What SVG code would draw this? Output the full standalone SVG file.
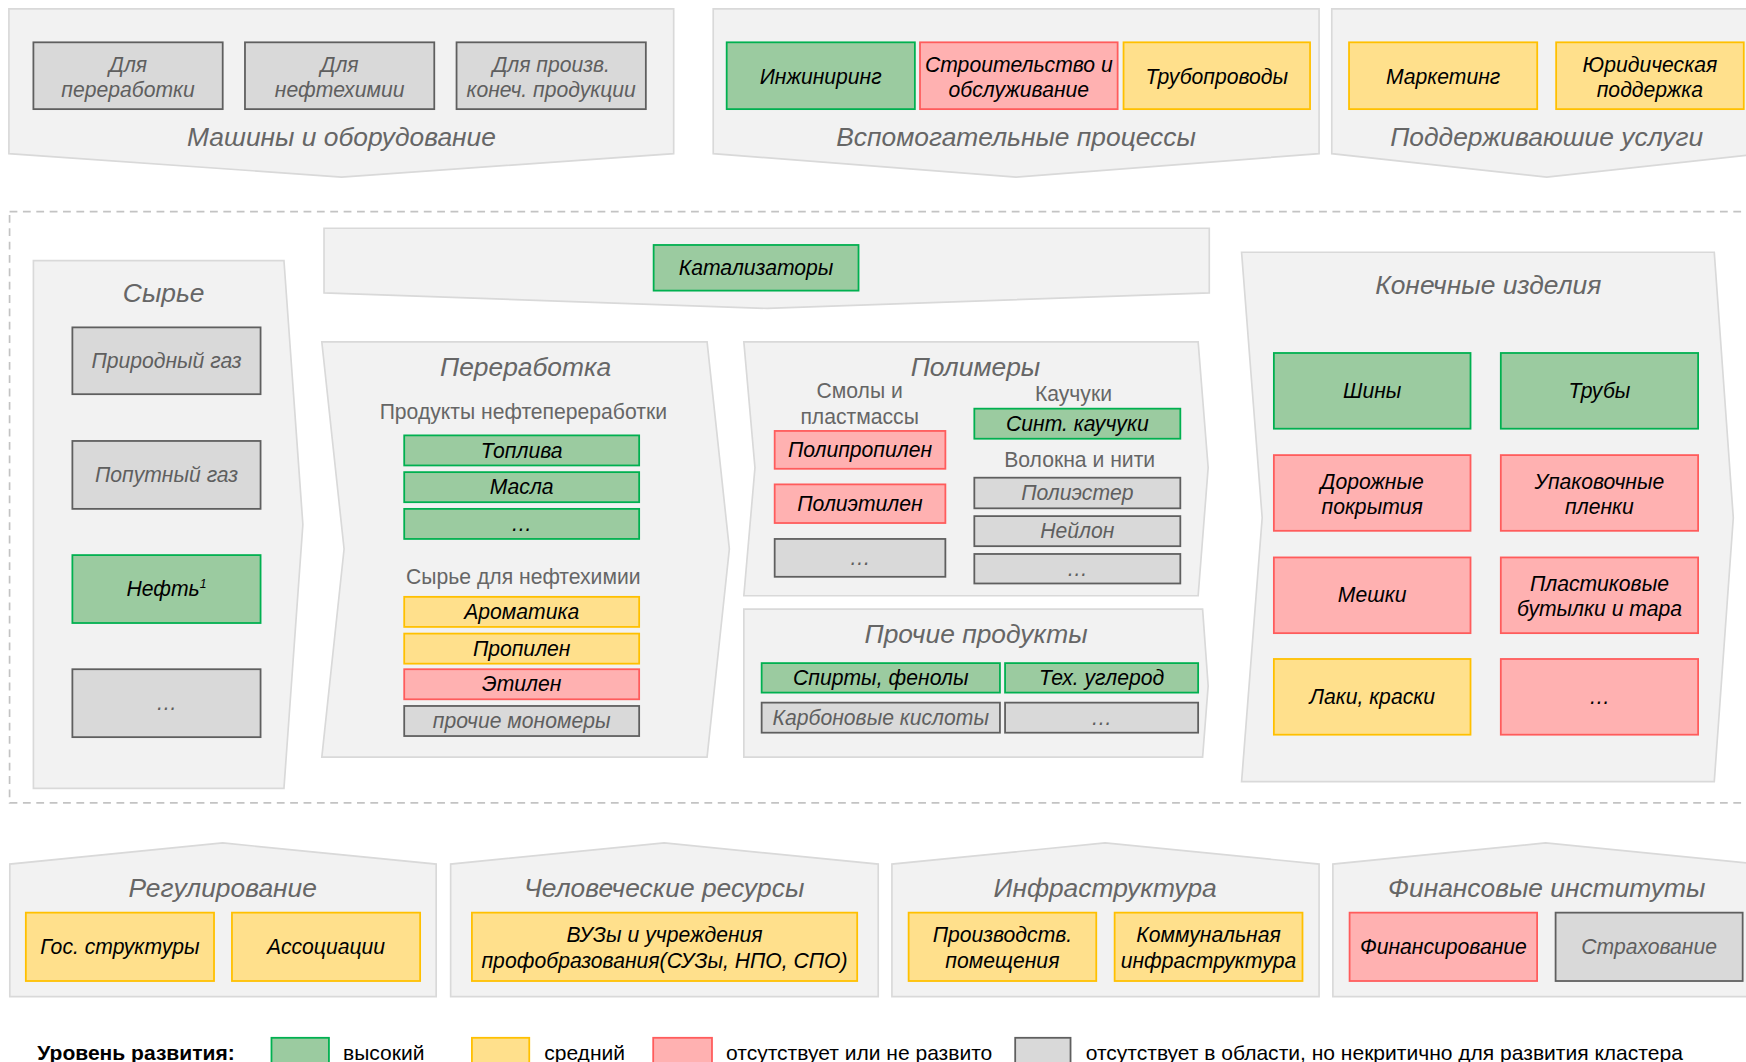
<svg xmlns="http://www.w3.org/2000/svg" width="1746" height="1062" viewBox="0 0 1746 1062">
<style>
.panel{fill:#f2f2f2;stroke:#d9d9d9;stroke-width:1.5}
.g{fill:#9bcba0;stroke:#00b050;stroke-width:1.6}
.r{fill:#ffb1b1;stroke:#ff5c5c;stroke-width:1.6}
.y{fill:#ffe08c;stroke:#ffc000;stroke-width:1.6}
.n{fill:#d9d9d9;stroke:#5f5f5f;stroke-width:1.6}
text{font-family:"Liberation Sans",Arial,sans-serif}
.bt{font-style:italic;font-size:19px;text-anchor:middle;fill:#000}
.gt{font-style:italic;font-size:19px;text-anchor:middle;fill:#5f5f5f}
.ti{font-style:italic;font-size:23.7px;text-anchor:middle;fill:#666}
.su{font-size:19px;text-anchor:middle;fill:#666}
.lg{font-size:18.9px;fill:#000}
.dash{fill:none;stroke:#c3c3c3;stroke-width:1.5;stroke-dasharray:7 5}
</style>
<rect width="1746" height="1062" fill="#fff"/>
<g transform="scale(1.11352)">
<!-- top panels -->
<g id="mashiny">
<path class="panel" d="M8,8 H605 V138 L306.7,159 L8,138 Z"/>
<rect class="n" x="30" y="38" width="170" height="60"/>
<text class="gt" x="115" y="65">Для</text><text class="gt" x="115" y="87.5">переработки</text>
<rect class="n" x="220" y="38" width="170" height="60"/>
<text class="gt" x="305" y="65">Для</text><text class="gt" x="305" y="87.5">нефтехимии</text>
<rect class="n" x="410" y="38" width="170" height="60"/>
<text class="gt" x="495" y="65">Для произв.</text><text class="gt" x="495" y="87.5">конеч. продукции</text>
<text class="ti" x="306.7" y="131">Машины и оборудование</text>
</g>
<g id="vspom">
<path class="panel" d="M640.5,8 H1184.6 V138 L912.5,159 L640.5,138 Z"/>
<rect class="g" x="652.6" y="38" width="169" height="60"/>
<text class="bt" x="737" y="75.5">Инжиниринг</text>
<rect class="r" x="826.2" y="38" width="177.5" height="60"/>
<text class="bt" x="915" y="65">Строительство и</text><text class="bt" x="915" y="87.5">обслуживание</text>
<rect class="y" x="1009" y="38" width="167.5" height="60"/>
<text class="bt" x="1092.7" y="75.5">Трубопроводы</text>
<text class="ti" x="912.5" y="131">Вспомогательные процессы</text>
</g>
<g id="podderzh">
<path class="panel" d="M1196,8 H1582 V138 L1389,159 L1196,138 Z"/>
<rect class="y" x="1211.5" y="38" width="169" height="60"/>
<text class="bt" x="1296" y="75.5">Маркетинг</text>
<rect class="y" x="1397.5" y="38" width="168.5" height="60"/>
<text class="bt" x="1481.7" y="65">Юридическая</text><text class="bt" x="1481.7" y="87.5">поддержка</text>
<text class="ti" x="1389" y="131">Поддерживаюшие услуги</text>
</g>
<!-- cluster frame -->
<rect class="dash" x="8.6" y="190" width="1580" height="531"/>
<g id="katalizatory">
<path class="panel" d="M291,205 H1086 V263 L689,277 L291,263 Z"/>
<rect class="g" x="587" y="220" width="184" height="41"/>
<text class="bt" x="679" y="247">Катализаторы</text>
</g>
<g id="syrye">
<path class="panel" d="M30,234 H255 L272,471 L255,708 H30 Z"/>
<text class="ti" x="147" y="271.5">Сырье</text>
<rect class="n" x="65" y="294" width="169" height="60"/>
<text class="gt" x="149.5" y="330.5">Природный газ</text>
<rect class="n" x="65" y="396" width="169" height="61"/>
<text class="gt" x="149.5" y="433">Попутный газ</text>
<rect class="g" x="65" y="498.5" width="169" height="61"/>
<text class="bt" x="149.5" y="535.5">Нефть<tspan font-size="11" dy="-7">1</tspan></text>
<rect class="n" x="65" y="601" width="169" height="61"/>
<text class="gt" x="149.5" y="638">…</text>
</g>
<g id="pererabotka">
<path class="panel" d="M289,307 H635 L655,493 L635,680 H289 L309,493 Z"/>
<text class="ti" x="472" y="337.5">Переработка</text>
<text class="su" x="470" y="376.5">Продукты нефтепереработки</text>
<rect class="g" x="363" y="391" width="211" height="27"/>
<text class="bt" x="468.5" y="411">Топлива</text>
<rect class="g" x="363" y="424" width="211" height="27"/>
<text class="bt" x="468.5" y="444">Масла</text>
<rect class="g" x="363" y="457" width="211" height="27"/>
<text class="bt" x="468.5" y="477">…</text>
<text class="su" x="470" y="524.5">Сырье для нефтехимии</text>
<rect class="y" x="363" y="536" width="211" height="27"/>
<text class="bt" x="468.5" y="556">Ароматика</text>
<rect class="y" x="363" y="569" width="211" height="27"/>
<text class="bt" x="468.5" y="589">Пропилен</text>
<rect class="r" x="363" y="601" width="211" height="27"/>
<text class="bt" x="468.5" y="621">Этилен</text>
<rect class="n" x="363" y="634" width="211" height="27"/>
<text class="gt" x="468.5" y="654">прочие мономеры</text>
</g>
<g id="polimery">
<path class="panel" d="M668,307 H1076 L1085,420 L1076,535 H668 L678,420 Z"/>
<text class="ti" x="876" y="338">Полимеры</text>
<text class="su" x="772" y="357.5">Смолы и</text>
<text class="su" x="772" y="381">пластмассы</text>
<rect class="r" x="695.7" y="387" width="153.3" height="34"/>
<text class="bt" x="772.3" y="410.5">Полипропилен</text>
<rect class="r" x="695.7" y="435" width="153.3" height="34.7"/>
<text class="bt" x="772.3" y="459">Полиэтилен</text>
<rect class="n" x="695.7" y="484" width="153.3" height="34"/>
<text class="gt" x="772.3" y="507.5">…</text>
<text class="su" x="964" y="360.5">Каучуки</text>
<rect class="g" x="875" y="367" width="185" height="27"/>
<text class="bt" x="967.5" y="387">Синт. каучуки</text>
<text class="su" x="969.6" y="419.5">Волокна и нити</text>
<rect class="n" x="875" y="429" width="185" height="27.5"/>
<text class="gt" x="967.5" y="449">Полиэстер</text>
<rect class="n" x="875" y="463.5" width="185" height="27"/>
<text class="gt" x="967.5" y="483.5">Нейлон</text>
<rect class="n" x="875" y="497.5" width="185" height="26.5"/>
<text class="gt" x="967.5" y="517">…</text>
</g>
<g id="prochie">
<path class="panel" d="M668,547 H1080 L1085,616 L1080,680 H668 Z"/>
<text class="ti" x="876.6" y="577.5">Прочие продукты</text>
<rect class="g" x="684" y="595.5" width="214" height="26.5"/>
<text class="bt" x="791" y="615.5">Спирты, фенолы</text>
<rect class="g" x="902.6" y="595.5" width="173.4" height="26.5"/>
<text class="bt" x="989.3" y="615.5">Тех. углерод</text>
<rect class="n" x="684" y="631" width="214" height="27"/>
<text class="gt" x="791" y="651">Карбоновые кислоты</text>
<rect class="n" x="902.6" y="631" width="173.4" height="27"/>
<text class="gt" x="989.3" y="651">…</text>
</g>
<g id="konechnye">
<path class="panel" d="M1115,226.5 H1539.5 L1556.6,465 L1539.5,702 H1115 L1133.5,465 Z"/>
<text class="ti" x="1336.5" y="264">Конечные изделия</text>
<rect class="g" x="1144" y="317" width="176.6" height="68"/>
<text class="bt" x="1232.3" y="357.5">Шины</text>
<rect class="g" x="1347.8" y="317" width="177.2" height="68"/>
<text class="bt" x="1436.4" y="357.5">Трубы</text>
<rect class="r" x="1144" y="408.7" width="176.6" height="68"/>
<text class="bt" x="1232.3" y="439.5">Дорожные</text><text class="bt" x="1232.3" y="462">покрытия</text>
<rect class="r" x="1347.8" y="408.7" width="177.2" height="68"/>
<text class="bt" x="1436.4" y="439.5">Упаковочные</text><text class="bt" x="1436.4" y="462">пленки</text>
<rect class="r" x="1144" y="500.6" width="176.6" height="68"/>
<text class="bt" x="1232.3" y="541">Мешки</text>
<rect class="r" x="1347.8" y="500.6" width="177.2" height="68"/>
<text class="bt" x="1436.4" y="531">Пластиковые</text><text class="bt" x="1436.4" y="553.5">бутылки и тара</text>
<rect class="y" x="1144" y="591.8" width="176.6" height="68"/>
<text class="bt" x="1232.3" y="632.5">Лаки, краски</text>
<rect class="r" x="1347.8" y="591.8" width="177.2" height="68"/>
<text class="bt" x="1436.4" y="632.5">…</text>
</g>
<!-- bottom panels -->
<g id="regulirovanie">
<path class="panel" d="M8.8,895 V776 L200,757 L391.7,776 V895 Z"/>
<text class="ti" x="200" y="806">Регулирование</text>
<rect class="y" x="23.2" y="819.6" width="169" height="61.4"/>
<text class="bt" x="107.7" y="857">Гос. структуры</text>
<rect class="y" x="208.3" y="819.6" width="169" height="61.4"/>
<text class="bt" x="292.8" y="857">Ассоциации</text>
</g>
<g id="kadry">
<path class="panel" d="M404.7,895 V776 L596.5,757 L788.7,776 V895 Z"/>
<text class="ti" x="596.5" y="806">Человеческие ресурсы</text>
<rect class="y" x="423.8" y="819.6" width="346" height="61.4"/>
<text class="bt" x="596.8" y="846">ВУЗы и учреждения</text><text class="bt" x="596.8" y="869.5">профобразования(СУЗы, НПО, СПО)</text>
</g>
<g id="infra">
<path class="panel" d="M801,895 V776 L992.5,757 L1184.6,776 V895 Z"/>
<text class="ti" x="992.5" y="806">Инфраструктура</text>
<rect class="y" x="816" y="819.6" width="168.5" height="61.4"/>
<text class="bt" x="900.2" y="846">Производств.</text><text class="bt" x="900.2" y="869.5">помещения</text>
<rect class="y" x="1001" y="819.6" width="168.7" height="61.4"/>
<text class="bt" x="1085.3" y="846">Коммунальная</text><text class="bt" x="1085.3" y="869.5">инфраструктура</text>
</g>
<g id="finansy">
<path class="panel" d="M1197,895 V776 L1388,757 L1579,776 V895 Z"/>
<text class="ti" x="1389" y="806">Финансовые институты</text>
<rect class="r" x="1212" y="819.6" width="168.4" height="61.4"/>
<text class="bt" x="1296.2" y="857">Финансирование</text>
<rect class="n" x="1397" y="819.6" width="168" height="61.4"/>
<text class="gt" x="1481" y="857">Страхование</text>
</g>
<!-- legend -->
<g id="legend">
<text class="lg" x="33.5" y="952" font-weight="bold">Уровень развития:</text>
<rect class="g" x="243.8" y="932" width="51.6" height="40"/>
<text class="lg" x="308" y="952">высокий</text>
<rect class="y" x="423.8" y="932" width="51.5" height="40"/>
<text class="lg" x="488.7" y="952">средний</text>
<rect class="r" x="586.6" y="932" width="52.8" height="40"/>
<text class="lg" x="652" y="952">отсутствует или не развито</text>
<rect class="n" x="911.7" y="932" width="49.7" height="40"/>
<text class="lg" x="975" y="952">отсутствует в области, но некритично для развития кластера</text>
</g>
<g id="connectors"></g>
</g>
</svg>
